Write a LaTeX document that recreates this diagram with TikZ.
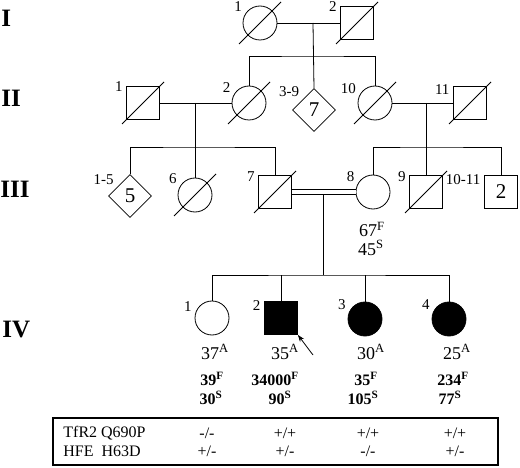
\documentclass[tikz,border=0pt]{standalone}
\usepackage{fontspec}
\setmainfont{Liberation Serif}
\usetikzlibrary{shapes.geometric,arrows.meta}

\begin{document}
\begin{tikzpicture}[x=1pt, y=-1pt, >={Stealth[length=7pt,width=5pt]}, line width=0.8pt,
    label distance=3.5pt,
    male/.style={draw, rectangle, minimum size=33pt, inner sep=0pt},
    female/.style={draw, circle, minimum size=34pt, inner sep=0pt},
    nosex/.style={draw, diamond, minimum size=43pt, inner sep=0pt, font=\fontsize{21}{23}\selectfont},
    affected/.style={fill=black},
    idlab/.style={font=\fontsize{15}{17}\selectfont, inner sep=0pt},
    gen/.style={anchor=west, inner sep=0pt, font=\fontsize{25}{28}\selectfont\bfseries},
    value/.style={inner sep=0pt, font=\fontsize{18}{20}\selectfont},
    lab/.style={inner sep=0pt, font=\fontsize{16}{18}\selectfont\bfseries},
    geno/.style={inner sep=0pt, font=\fontsize{16}{18}\selectfont}]
  \useasboundingbox (0,0) rectangle (520,468);

  % generations
  \node[gen] (gI) at (1,18) {I};
  \node[gen] (gII) at (1,98) {II};
  \node[gen] (gIII) at (0,189) {III};
  \node[gen] (gIV) at (2,330) {IV};

  % generation I
  \node[female, label={[idlab]148:1}] (I1) at (260,23) {};
  \node[male, label={[idlab]151:2}] (I2) at (357,23) {};

  % generation II
  \node[male, label={[idlab]152:1}] (II1) at (143,103) {};
  \node[female, label={[idlab]151:2}] (II2) at (249,103) {};
  \node[nosex, label={[idlab]139:3-9}] (II3) at (314,110) {7};
  \node[female, label={[idlab]154:10}] (II10) at (375,103) {};
  \node[male, label={[idlab]157:11}] (II11) at (470,103) {};

  % generation III
  \node[nosex, label={[idlab]146:1-5}] (III1) at (130,196) {5};
  \node[female, label={[idlab]149:6}] (III6) at (195,195) {};
  \node[male, label={[idlab]154:7}] (III7) at (275,192) {};
  \node[female, label={[idlab]151:8}] (III8) at (373,192) {};
  \node[male, label={[idlab]153:9}] (III9) at (426,192) {};
  \node[male, font=\fontsize{21}{23}\selectfont, label={[idlab]160:10-11}] (III10) at (501,192) {2};

  % generation IV
  \node[female, label={[idlab]162:1}] (IV1) at (212,318) {};
  \node[male, affected, label={[idlab]160:2}] (IV2) at (281,318) {};
  \node[female, affected, label={[idlab]156:3}] (IV3) at (365,319) {};
  \node[female, affected, label={[idlab]155:4}] (IV4) at (449,319) {};

  % deceased
  \foreach \n in {I1,I2,II1,II2,II10,II11,III6,III7,III9}
    \draw (\n.center) ++(-21,21) -- ++(42,-42);

  % matings and sibships
  \draw (I1) -- (I2);
  \coordinate (mI) at (313,23);
  \coordinate (sI) at (313,56);
  \draw (mI) -- (II3.north);
  \draw (II2.north) |- (sI) -| (II10.north);

  \draw (II1) -- (II2);
  \coordinate (mIIa) at (195,103);
  \coordinate (sIIa) at (195,147);
  \draw (mIIa) -- (III6.north);
  \draw (III1.north) |- (sIIa) -| (III7.north);

  \draw (II10) -- (II11);
  \coordinate (mIIb) at (426,103);
  \coordinate (sIIb) at (426,147);
  \draw (mIIb) -- (III9.north);
  \draw (III8.north) |- (sIIb) -| (III10.north);

  \draw[double, double distance=4.5pt] (III7) -- (III8);
  \coordinate (mIII) at (323,194.6);
  \coordinate (sIV) at (323,275);
  \draw (mIII) -- (sIV);
  \draw (IV1.north) |- (sIV) -| (IV4.north);
  \draw (IV2.north) -- (IV2.north |- sIV);
  \draw (IV3.north) -- (IV3.north |- sIV);

  % proband
  \coordinate (pb) at (313,355);
  \draw[->] (pb) -- (IV2.south east);

  % values
  \node[value] (f8) at (372,229.5) {67\textsuperscript{F}};
  \node[value] (s8) at (371,248) {45\textsuperscript{S}};

  \node[value] (a1) at (215,352) {37\textsuperscript{A}};
  \node[value] (a2) at (285,352) {35\textsuperscript{A}};
  \node[value] (a3) at (371,352) {30\textsuperscript{A}};
  \node[value] (a4) at (457,352) {25\textsuperscript{A}};

  \node[lab] (f1) at (212,379) {39\textsuperscript{F}};
  \node[lab] (f2) at (275,379) {34000\textsuperscript{F}};
  \node[lab] (f3) at (366,379) {35\textsuperscript{F}};
  \node[lab] (f4) at (453,379) {234\textsuperscript{F}};
  \node[lab] (s1) at (211,398) {30\textsuperscript{S}};
  \node[lab] (s2) at (280,398) {90\textsuperscript{S}};
  \node[lab] (s3) at (363,398) {105\textsuperscript{S}};
  \node[lab] (s4) at (450,398) {77\textsuperscript{S}};

  % genotypes
  \node[draw, line width=1.5pt, minimum width=445pt, minimum height=47pt, inner sep=0pt] (tab) at (275.5,441.5) {};
  \node[geno, anchor=west] (r1) at (63,433) {TfR2 Q690P};
  \node[geno, anchor=west] (r2) at (63,451) {HFE\ \ H63D};
  \foreach \x/\a/\b [count=\i] in {207/{-/-}/{+/-}, 285/{+/+}/{+/-}, 368/{+/+}/{-/-}, 455/{+/+}/{+/-}} {
    \node[geno] (ta\i) at (\x,433) {\a};
    \node[geno] (tb\i) at (\x,451) {\b};
  }
\end{tikzpicture}
\end{document}
